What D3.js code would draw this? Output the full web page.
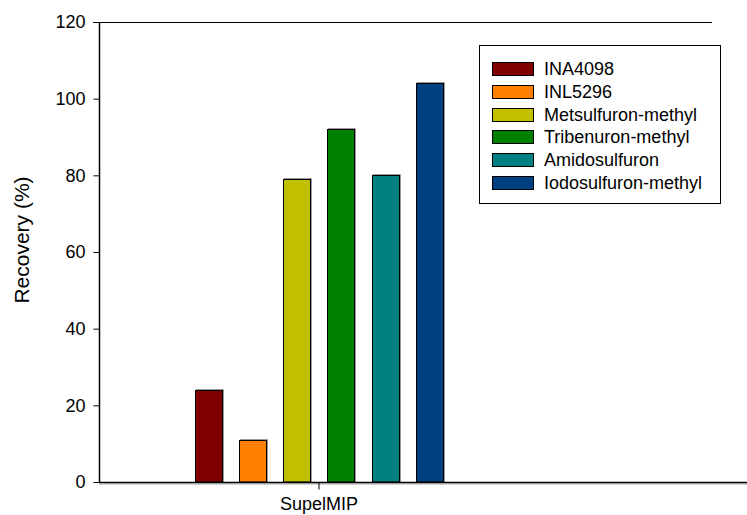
<!DOCTYPE html>
<html>
<head>
<meta charset="utf-8">
<script src="https://cdn.jsdelivr.net/npm/d3@7"></script>
<style>
  html, body { margin: 0; padding: 0; background: #fff; }
  svg { display: block; font-family: Arial, "Liberation Sans", sans-serif; }
</style>
</head>
<body>
<svg id="chart" width="747" height="515"></svg>
<script>
const categories = ["SupelMIP"];
const seriesNames = ["INA4098", "INL5296", "Metsulfuron-methyl", "Tribenuron-methyl", "Amidosulfuron", "Iodosulfuron-methyl"];
const seriesValues = [24, 11, 79, 92, 80, 104];
const seriesColors = ["#800000", "#FF8000", "#C0C000", "#008000", "#008080", "#004080"];
const yTicks = [0, 20, 40, 60, 80, 100, 120];
const yLabel = "Recovery (%)";

const FONT = "Arial, 'Liberation Sans', sans-serif";
const svg = d3.select("#chart");
const plotLeft = 99, plotRight = 747, topLineEnd = 712, plotTop = 22, plotBottom = 482;

const y = d3.scaleLinear().domain([0, 120]).range([plotBottom, plotTop]);
const x0 = d3.scaleBand().domain(categories).range([plotLeft, 539]);
const x1 = d3.scaleBand().domain(seriesNames)
  .range([-132, 132]).paddingInner(0.385).paddingOuter(0.19);

// bars
const g = svg.append("g");
categories.forEach(cat => {
  const cx = x0(cat) + x0.bandwidth() / 2;
  seriesNames.forEach((s, i) => {
    const bx = Math.round(cx + x1(s)), bw = Math.round(x1.bandwidth());
    const by = Math.round(y(seriesValues[i]));
    g.append("path")
      .attr("d", `M${bx + 1},${by - 0.5}H${bx + bw + 1.5}V${plotBottom}`)
      .attr("fill", "none").attr("stroke", "#9a9a9a").attr("stroke-width", 1);
    g.append("rect")
      .attr("x", bx + 0.5).attr("y", by + 0.5)
      .attr("width", bw).attr("height", plotBottom - by - 0.5)
      .attr("fill", seriesColors[i]).attr("stroke", "#000").attr("stroke-width", 1);
  });
});

// y axis
const yAxis = d3.axisLeft(y).tickValues(yTicks).tickSize(6).tickPadding(8).tickFormat(d3.format("d"));
const ya = svg.append("g").attr("transform", `translate(${plotLeft + 0.5},0)`).call(yAxis);
ya.select(".domain").attr("d", `M0,${plotBottom}V${plotTop}`).attr("stroke", "#000").attr("stroke-width", 1.5);
ya.selectAll(".tick line").attr("stroke", "#000");
ya.selectAll(".tick text").attr("font-size", 18).attr("fill", "#000").attr("font-family", FONT);

// top border line
svg.append("line").attr("x1", plotLeft - 6).attr("x2", topLineEnd).attr("y1", plotTop + 0.5).attr("y2", plotTop + 0.5)
  .attr("stroke", "#000").attr("stroke-width", 1.2);

// x axis
svg.append("line").attr("x1", plotLeft).attr("x2", plotRight).attr("y1", plotBottom + 2).attr("y2", plotBottom + 2)
  .attr("stroke", "#aaa").attr("stroke-width", 1);
const xAxis = d3.axisBottom(x0).tickSize(7).tickPadding(8);
const xa = svg.append("g").attr("transform", `translate(0,${plotBottom + 0.5})`).call(xAxis);
xa.select(".domain").attr("d", `M${plotLeft},0H${plotRight}`).attr("stroke", "#000").attr("stroke-width", 1.5);
xa.selectAll(".tick line").attr("stroke", "#000");
xa.selectAll(".tick text").attr("font-size", 18).attr("fill", "#000").attr("font-family", FONT);

// y label
svg.append("text")
  .attr("transform", `translate(29,240) rotate(-90)`)
  .attr("text-anchor", "middle")
  .attr("font-size", 21)
  .attr("font-family", FONT)
  .text(yLabel);

// legend
const lg = svg.append("g");
lg.append("rect").attr("x", 479.5).attr("y", 45.5).attr("width", 241).attr("height", 158)
  .attr("fill", "#fff").attr("stroke", "#000").attr("stroke-width", 1);
seriesNames.forEach((s, i) => {
  const cy = 68.7 + i * 22.7;
  lg.append("rect").attr("x", 492.5).attr("y", Math.round(cy - 6.5) + 0.5)
    .attr("width", 41).attr("height", 13)
    .attr("fill", seriesColors[i]).attr("stroke", "#000").attr("stroke-width", 1);
  lg.append("text").attr("x", 544).attr("y", cy).attr("dy", "0.36em")
    .attr("font-size", 18).attr("font-family", FONT).text(s);
});
</script>
</body>
</html>
